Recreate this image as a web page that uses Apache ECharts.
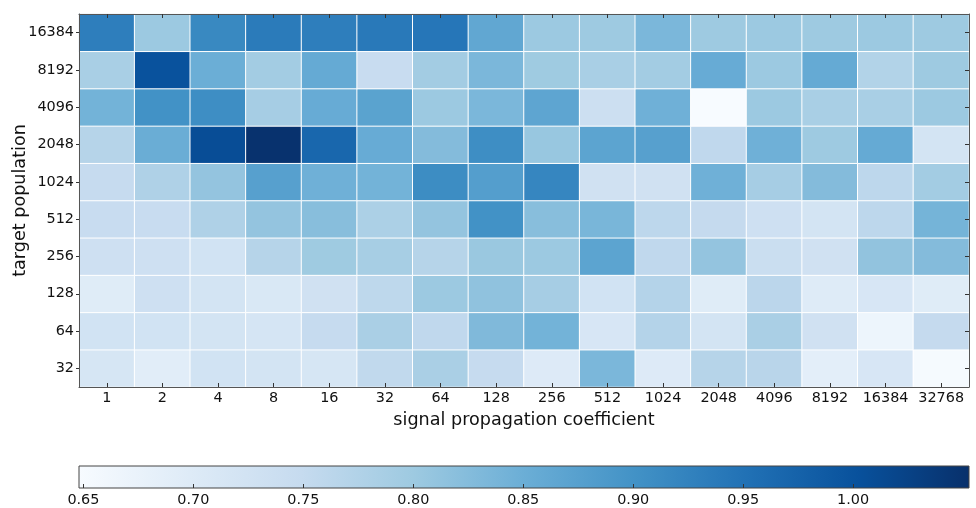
<!DOCTYPE html>
<html>
<head>
<meta charset="utf-8">
<script src="https://cdn.jsdelivr.net/npm/echarts@6/dist/echarts.min.js"></script>
<style>html,body{margin:0;padding:0;background:#fff;}#c{width:976px;height:508px;}</style>
</head>
<body>
<div id="c"></div>
<script>
const xCategories = ['1','2','4','8','16','32','64','128','256','512','1024','2048','4096','8192','16384','32768'];
const yCategories = ['32','64','128','256','512','1024','2048','4096','8192','16384'];

// rows listed from top (16384) to bottom (32)
const r16384 = [0.931,0.802,0.915,0.936,0.931,0.940,0.944,0.863,0.802,0.800,0.834,0.800,0.802,0.800,0.802,0.800];
const r8192  = [0.786,1.000,0.850,0.794,0.858,0.745,0.794,0.834,0.798,0.786,0.794,0.855,0.802,0.858,0.774,0.800];
const r4096  = [0.842,0.901,0.907,0.790,0.855,0.871,0.802,0.834,0.867,0.737,0.846,0.649,0.802,0.786,0.786,0.802];
const r2048  = [0.770,0.852,1.008,1.050,0.968,0.855,0.826,0.907,0.806,0.869,0.875,0.757,0.846,0.800,0.858,0.721];
const r1024  = [0.749,0.778,0.810,0.875,0.846,0.842,0.909,0.879,0.920,0.729,0.729,0.846,0.790,0.826,0.761,0.794];
const r512   = [0.745,0.745,0.778,0.810,0.822,0.782,0.810,0.901,0.822,0.836,0.761,0.751,0.733,0.721,0.761,0.840];
const r256   = [0.733,0.733,0.725,0.770,0.798,0.788,0.770,0.804,0.802,0.869,0.757,0.810,0.741,0.729,0.812,0.826];
const r128   = [0.697,0.733,0.721,0.709,0.729,0.759,0.802,0.814,0.790,0.725,0.772,0.697,0.763,0.699,0.713,0.697];
const r64    = [0.725,0.725,0.721,0.717,0.749,0.784,0.757,0.830,0.842,0.713,0.772,0.721,0.784,0.729,0.668,0.751];
const r32    = [0.715,0.693,0.725,0.721,0.715,0.755,0.784,0.749,0.701,0.834,0.701,0.770,0.766,0.689,0.713,0.652];

const colorbarMin = 0.648;
const colorbarMax = 1.0527;
const colorbarTicks = [0.65,0.70,0.75,0.80,0.85,0.90,0.95,1.00];

const blues = ['#f7fbff','#deebf7','#c6dbef','#9ecae1','#6baed6','#4292c6','#2171b5','#08519c','#08306b'];

const rowsBottomToTop = [r32, r64, r128, r256, r512, r1024, r2048, r4096, r8192, r16384];
const heatData = [];
rowsBottomToTop.forEach((row, yi) => row.forEach((v, xi) => heatData.push([xi, yi, v])));

const FONT = 'DejaVu Sans';
const frame = {show: true, lineStyle: {color: '#555', width: 1}};
const labelStyle = {color: '#111', fontFamily: FONT, fontSize: 14.4};
const nameStyle = {color: '#111', fontFamily: FONT, fontSize: 17.6};

const chart = echarts.init(document.getElementById('c'), null, {renderer: 'canvas'});
chart.setOption({
  animation: false,
  backgroundColor: '#fff',
  grid: [
    {left: 79, right: 7, top: 14, bottom: 121, containLabel: false, outerBoundsMode: 'none'},
    {left: 79, right: 7, top: 466, height: 22, containLabel: false, outerBoundsMode: 'none'}
  ],
  xAxis: [
    {type: 'category', gridIndex: 0, data: xCategories, position: 'bottom', z: 10,
     axisLine: frame, axisTick: {show: true, inside: true, length: 4, alignWithLabel: true, interval: 0, lineStyle: {color: '#333'}},
     axisLabel: Object.assign({margin: 4, interval: 0, hideOverlap: false}, labelStyle), splitLine: {show: false},
     name: 'signal propagation coefficient', nameLocation: 'middle', nameGap: 24, nameMoveOverlap: false,
     nameTextStyle: nameStyle},
    {type: 'category', gridIndex: 0, data: xCategories, position: 'top', z: 10,
     axisLine: frame, axisTick: {show: true, inside: true, length: 4, alignWithLabel: true, interval: 0, lineStyle: {color: '#333'}},
     axisLabel: {show: false}, splitLine: {show: false}},
    {type: 'value', gridIndex: 1, min: colorbarMin, max: colorbarMax, position: 'bottom', z: 10,
     axisLine: {show: false},
     axisTick: {show: true, inside: true, length: 4, customValues: colorbarTicks, lineStyle: {color: '#333'}},
     axisLabel: Object.assign({margin: 5, customValues: colorbarTicks, formatter: v => v.toFixed(2)}, labelStyle),
     splitLine: {show: false}}
  ],
  yAxis: [
    {type: 'category', gridIndex: 0, data: yCategories, position: 'left', z: 10,
     axisLine: frame, axisTick: {show: true, inside: false, length: 3, alignWithLabel: true, interval: 0, lineStyle: {color: '#333'}},
     axisLabel: Object.assign({margin: 5, interval: 0}, labelStyle), splitLine: {show: false},
     name: 'target population', nameLocation: 'middle', nameGap: 50, nameMoveOverlap: false,
     nameTextStyle: nameStyle},
    {type: 'category', gridIndex: 0, data: yCategories, position: 'right', z: 10,
     axisLine: frame, axisTick: {show: true, inside: true, length: 4, alignWithLabel: true, interval: 0, lineStyle: {color: '#333'}},
     axisLabel: {show: false}, splitLine: {show: false}},
    {type: 'value', gridIndex: 1, min: 0, max: 1, show: false}
  ],
  visualMap: {
    type: 'continuous', show: false, seriesIndex: 0, dimension: 2,
    min: colorbarMin, max: colorbarMax, inRange: {color: blues}
  },
  series: [
    {type: 'heatmap', xAxisIndex: 0, yAxisIndex: 0, data: heatData,
     itemStyle: {borderColor: '#fff', borderWidth: 1}, emphasis: {disabled: true}},
    {type: 'custom', xAxisIndex: 2, yAxisIndex: 2, data: [[colorbarMin, colorbarMax]], silent: true,
     renderItem: function (params, api) {
       const p0 = api.coord([api.value(0), 1]);
       const p1 = api.coord([api.value(1), 0]);
       return {
         type: 'rect',
         shape: {x: p0[0], y: p0[1], width: p1[0] - p0[0], height: p1[1] - p0[1]},
         style: {
           fill: new echarts.graphic.LinearGradient(0, 0, 1, 0,
             blues.map((c, i) => ({offset: i / (blues.length - 1), color: c}))),
           stroke: '#444', lineWidth: 1
         }
       };
     }}
  ]
});
</script>
</body>
</html>
